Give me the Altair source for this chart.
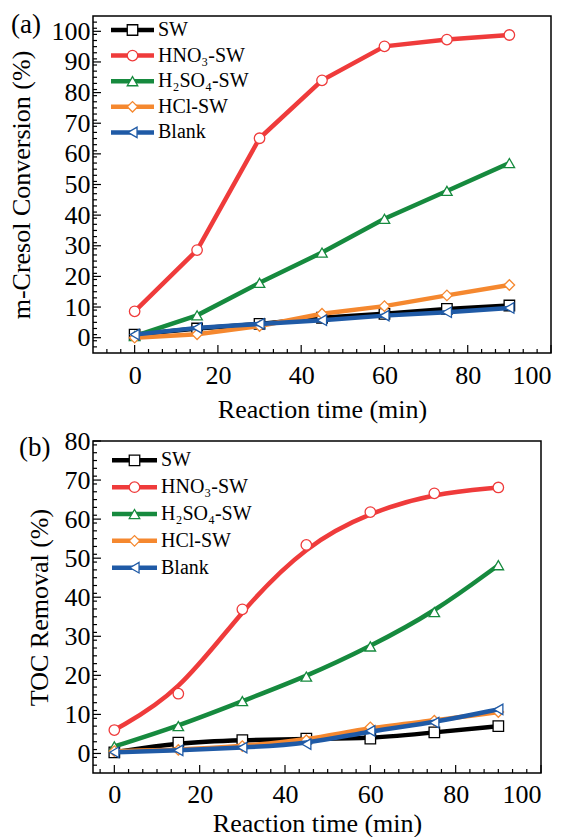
import altair as alt
import pandas as pd

time = [0, 15, 30, 45, 60, 75, 90]
series = ["SW", "HNO₃-SW", "H₂SO₄-SW", "HCl-SW", "Blank"]
colors = ["#000000", "#EF3B3B", "#168A3E", "#F5882F", "#1F5AA6"]
shapes = ["square", "circle", "triangle-up", "diamond", "triangle-left"]

# (a) m-Cresol conversion (%)
conv_sw = [1.0, 3.0, 4.5, 6.5, 7.8, 9.4, 10.5]
conv_hno3 = [8.6, 28.6, 65.1, 84.0, 95.1, 97.3, 98.8]
conv_h2so4 = [0.5, 7.3, 17.9, 27.8, 38.8, 47.9, 57.0]
conv_hcl = [0.0, 1.1, 3.8, 7.8, 10.3, 13.8, 17.2]
conv_blank = [1.0, 3.2, 4.5, 5.7, 7.2, 8.3, 9.7]

# (b) TOC removal (%)
toc_sw = [0.3, 2.8, 3.4, 3.8, 3.8, 5.4, 7.0]
toc_hno3 = [6.0, 15.3, 36.9, 53.4, 61.8, 66.6, 68.1]
toc_h2so4 = [1.8, 7.0, 13.4, 19.7, 27.4, 36.2, 48.2]
toc_hcl = [0.6, 0.9, 1.9, 3.4, 6.7, 8.4, 10.6]
toc_blank = [0.3, 0.8, 1.5, 2.4, 5.8, 7.9, 11.3]

x_major = [0, 20, 40, 60, 80, 100]
FONT = "Liberation Serif"


def panel(values, x_dom, y_dom, y_major, w, h, interp, ytitle, ytp, xlp, xtp, letter,
          lx, ly, leg_x0, leg_x1, leg_y0, leg_dy):
    rows = []
    for s, vals in zip(series, values):
        for t, v in zip(time, vals):
            rows.append({"series": s, "time": t, "value": v})
    df = pd.DataFrame(rows)

    xs = alt.Scale(domain=x_dom, nice=False, zero=False)
    ys = alt.Scale(domain=y_dom, nice=False, zero=False)
    xax = alt.Axis(values=x_major, ticks=False, domain=False, grid=False,
                   labelPadding=xlp, titlePadding=xtp)
    yax = alt.Axis(values=y_major, ticks=False, domain=False, grid=False,
                   labelPadding=3, titlePadding=ytp)

    def X(f):
        return alt.X(f, type="quantitative", scale=xs, axis=xax, title="Reaction time (min)")

    def Y(f):
        return alt.Y(f, type="quantitative", scale=ys, axis=yax, title=ytitle)

    layers = []
    # inward ticks
    xmin = [k * 10 / 3 for k in range(-30, 31)
            if x_dom[0] < k * 10 / 3 < x_dom[1] and k % 6 != 0]
    ymin = [v for v in range(int(y_dom[0]), int(y_dom[1]) + 1, 2)
            if y_dom[0] < v < y_dom[1] and v % 10 != 0]
    tick_style = dict(color="black", strokeWidth=1.2)
    layers.append(alt.Chart(pd.DataFrame({"time": x_major})).mark_rule(**tick_style).encode(
        x=X("time"), y=alt.value(h), y2=alt.value(h - 8)))
    layers.append(alt.Chart(pd.DataFrame({"time": xmin})).mark_rule(**tick_style).encode(
        x=X("time"), y=alt.value(h), y2=alt.value(h - 4)))
    layers.append(alt.Chart(pd.DataFrame({"value": y_major})).mark_rule(**tick_style).encode(
        y=Y("value"), x=alt.value(0), x2=alt.value(8)))
    layers.append(alt.Chart(pd.DataFrame({"value": ymin})).mark_rule(**tick_style).encode(
        y=Y("value"), x=alt.value(0), x2=alt.value(4)))

    for s, c, sh in zip(series, colors, shapes):
        sub = alt.Chart(df).transform_filter(alt.datum.series == s)
        layers.append(sub.mark_line(interpolate=interp, strokeWidth=4.5, color=c).encode(
            x=X("time"), y=Y("value")))
        layers.append(sub.mark_point(shape=sh, size=110, fill="white", fillOpacity=1,
                                     stroke=c, strokeWidth=1.3, opacity=1).encode(
            x=X("time"), y=Y("value")))

    # legend
    leg = pd.DataFrame({"series": series, "idx": list(range(len(series)))})
    span = y_dom[1] - y_dom[0]
    legc = alt.Chart(leg).transform_calculate(
        ly=f"{y_dom[1]} - ({leg_y0} + datum.idx * {leg_dy}) * {span} / {h}")
    cscale = alt.Scale(domain=series, range=colors)
    sscale = alt.Scale(domain=series, range=shapes)
    layers.append(legc.mark_rule(strokeWidth=4.5).encode(
        x=alt.value(leg_x0), x2=alt.value(leg_x1), y=Y("ly"),
        color=alt.Color("series:N", scale=cscale, legend=None)))
    layers.append(legc.mark_point(size=110, fill="white", fillOpacity=1, strokeWidth=1.3,
                                  opacity=1).encode(
        x=alt.value((leg_x0 + leg_x1) / 2), y=Y("ly"),
        stroke=alt.Stroke("series:N", scale=cscale, legend=None),
        shape=alt.Shape("series:N", scale=sscale, legend=None)))
    layers.append(legc.mark_text(align="left", baseline="middle", font=FONT, fontSize=20,
                                 color="black").encode(
        x=alt.value(leg_x1 + 4), y=Y("ly"), text="series:N"))
    # panel letter
    layers.append(alt.Chart(pd.DataFrame({"t": [letter]})).mark_text(
        align="left", baseline="middle", font=FONT, fontSize=27, color="black").encode(
        x=alt.value(lx), y=alt.value(ly), text="t:N"))

    return alt.layer(*layers).properties(width=w, height=h)


pa = panel([conv_sw, conv_hno3, conv_h2so4, conv_hcl, conv_blank],
           [-10, 100], [-5, 105], list(range(0, 101, 10)), 458, 337, "linear",
           "m-Cresol Conversion (%)", 17, 9, 8, "(a)", -82, 9, 18, 61, 14, 25.6)
pb = panel([toc_sw, toc_hno3, toc_h2so4, toc_hcl, toc_blank],
           [-5, 100], [-5, 80], list(range(0, 81, 10)), 448, 332, "basis",
           "TOC Removal (%)", 12, 8, 3, "(b)", -74, 7, 19, 64, 19.3, 26.85)

chart = alt.vconcat(pa, pb, spacing=4).properties(
    padding={"left": 7, "top": 10, "right": 0, "bottom": 0},
    background="white"
).configure_view(stroke="black", strokeWidth=1.5).configure_axis(
    labelFont=FONT, labelFontSize=26, labelColor="black",
    titleFont=FONT, titleFontSize=26, titleFontWeight="normal", titleColor="black"
)

chart.save("out.html", embed_options={"renderer": "svg", "actions": False})
